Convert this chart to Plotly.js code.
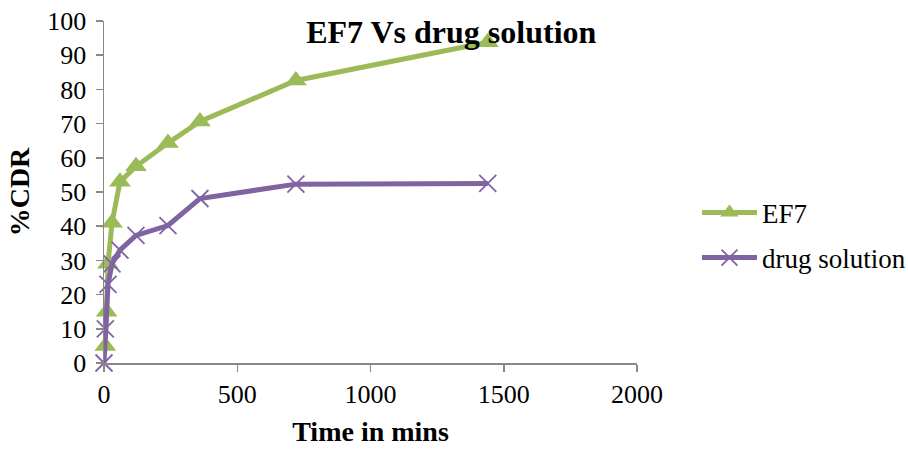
<!DOCTYPE html>
<html>
<head>
<meta charset="utf-8">
<script src="https://cdn.plot.ly/plotly-3.0.1.min.js"></script>
<style>html,body{margin:0;padding:0;background:#fff;}#chart{width:908px;height:449px;}</style>
</head>
<body>
<div id="chart"></div>
<script>
const ef7Time = [5, 10, 15, 30, 60, 120, 240, 360, 720, 1440];
const ef7Cdr = [5, 15, 29, 41, 53, 57.5, 64.3, 70.6, 82.6, 93.8];
const drugTime = [0, 5, 15, 30, 60, 120, 240, 360, 720, 1440];
const drugCdr = [0, 10, 23, 29, 33, 37.3, 40.2, 48.1, 52.3, 52.5];
const xTicks = [0, 500, 1000, 1500, 2000];
const yTicks = [0, 10, 20, 30, 40, 50, 60, 70, 80, 90, 100];

const green = '#9BBB59';
const purple = '#8064A2';
const font = 'Liberation Serif, Times New Roman, serif';

const traces = [
  {
    x: ef7Time, y: ef7Cdr, name: 'EF7', mode: 'lines+markers', type: 'scatter',
    line: {color: green, width: 5},
    marker: {symbol: 'triangle-up', size: 19, color: green},
    cliponaxis: false, legendgroup: 'a'
  },
  {
    x: drugTime, y: drugCdr, name: 'drug solution', mode: 'lines+markers', type: 'scatter',
    line: {color: purple, width: 5},
    marker: {symbol: 'x-thin', size: 17, color: purple, line: {color: purple, width: 1.8}},
    cliponaxis: false, legendgroup: 'b'
  }
];

const layout = {
  width: 908, height: 449,
  margin: {l: 104, r: 271, t: 21, b: 86, autoexpand: false},
  paper_bgcolor: '#fff', plot_bgcolor: '#fff',
  font: {family: font, size: 26, color: '#000'},
  showlegend: true,
  title: {text: '<b>EF7 Vs drug solution</b>', font: {family: font, size: 32, color: '#000'},
          x: 0.497, xanchor: 'center', y: 0.93, yanchor: 'middle'},
  xaxis: {
    range: [0, 2000], tickvals: xTicks, ticktext: xTicks.map(String),
    showgrid: false, zeroline: false, showline: true, linecolor: '#888', linewidth: 1.5,
    ticks: 'outside', ticklen: 7, tickcolor: '#888', tickwidth: 1.5,
    tickfont: {family: font, size: 26, color: '#000'},
    title: {text: '<b>Time in mins</b>', font: {family: font, size: 28, color: '#000'}, standoff: 13}
  },
  yaxis: {
    range: [0, 100], tickvals: yTicks, ticktext: yTicks.map(String),
    showgrid: false, zeroline: false, showline: true, linecolor: '#888', linewidth: 1.5,
    ticks: 'outside', ticklen: 7, tickcolor: '#888', tickwidth: 1.5,
    ticklabelstandoff: 4,
    tickfont: {family: font, size: 26, color: '#000'},
    title: {text: '<b>%CDR</b>', font: {family: font, size: 28, color: '#000'}, standoff: 9}
  },
  legend: {
    x: 1.1125, y: 0.373, xanchor: 'left', yanchor: 'middle',
    font: {family: font, size: 27, color: '#000'},
    itemwidth: 55,
    traceorder: 'grouped', tracegroupgap: 7, bgcolor: 'rgba(0,0,0,0)'
  }
};

Plotly.newPlot('chart', traces, layout, {displayModeBar: false, staticPlot: true});
</script>
</body>
</html>
